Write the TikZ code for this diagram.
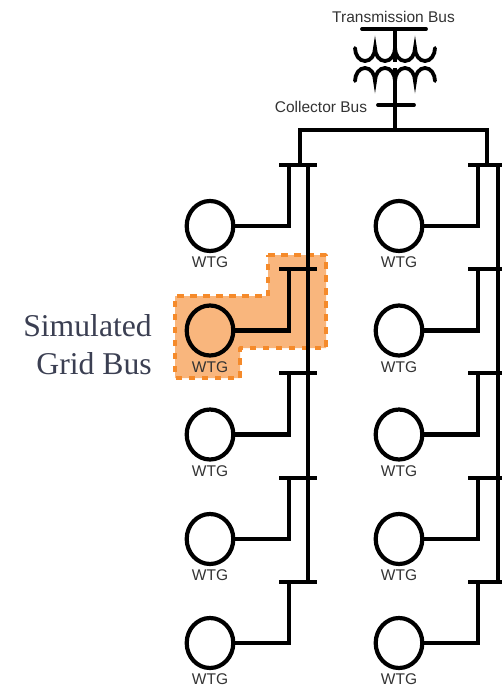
\documentclass[tikz,border=0pt]{standalone}
\usetikzlibrary{shapes.geometric}
\usepackage{fontspec}
\setmainfont{Liberation Serif}
\newfontfamily\lblfont{Liberation Sans}
\definecolor{hlfill}{HTML}{F9B67D}
\definecolor{hldash}{HTML}{F58A2A}
\definecolor{lbl}{HTML}{333333}
\definecolor{simtxt}{HTML}{3B3F52}
\tikzset{
  wire/.style={line width=4.2pt,black},
  thin wire/.style={line width=3.8pt,black},
  wtg/.style={ellipse,draw=black,line width=4.2pt,minimum width=46.6pt,minimum height=50pt,inner sep=0pt,fill=none},
  lab/.style={font=\lblfont\fontsize{15.5}{17}\selectfont,text=lbl,inner sep=0pt},
  simlab/.style={font=\fontsize{31.7}{38}\selectfont,text=simtxt,inner sep=0pt,align=right,anchor=east},
  highlight/.style={fill=hlfill,draw=hldash,line width=3.8pt,dash pattern=on 6.5pt off 6.5pt,line join=round}
}
\begin{document}
\begin{tikzpicture}[x=1pt,y=-1pt]
\useasboundingbox (0,0) rectangle (502,687);
\draw[highlight] (268,255) -- (326,255) -- (326,348) -- (240,348) -- (240,378) -- (175,378) -- (175,296) -- (268,296) -- cycle;
% left and right feeder columns
\foreach \col/\cx/\sx/\bl/\br/\vx in {L/210/289/279/317/308, R/399/478/468/506/498}{
  \coordinate (\col top) at (\vx,165);
  \foreach \i/\by/\cy in {1/165/226, 2/269/330.5, 3/373/434.5, 4/478/539, 5/582/643}{
    \node[wtg] (g\col\i) at (\cx,\cy) {};
    \node[lab,anchor=center] (t\col\i) at (\cx,\cy+36.5) {WTG};
    \coordinate (bl\col\i) at (\bl,\by);
    \coordinate (br\col\i) at (\br,\by);
    \coordinate (s\col\i) at (\sx,\by);
    \draw[thin wire] (bl\col\i) -- (br\col\i);
    \draw[wire,line join=miter] (s\col\i) -- (s\col\i |- g\col\i) -- (g\col\i);
  }
  \coordinate (vb\col) at (\vx,582);
  \draw[wire] (\col top) -- (vb\col);
}
% top structure
\coordinate (tb1) at (362,29); \coordinate (tb2) at (426,29); \coordinate (tbm) at (395,29);
\coordinate (cb1) at (378,105); \coordinate (cb2) at (414,105);
\coordinate (hbm) at (395,130); \coordinate (hbl) at (300,130); \coordinate (hbr) at (487,130);
\coordinate (dl) at (300,165); \coordinate (dr) at (487,165);
\coordinate (coilT) at (395,62); \coordinate (coilB) at (395,68);
\draw[thin wire,line cap=round] (tb1) -- (tb2);
\draw[thin wire,line cap=round] (cb1) -- (cb2);
\draw[wire] (tbm) -- (coilT);
\draw[wire] (coilB) -- (hbm);
\draw[wire,line join=miter] (dl) -- (hbl) -- (hbr) -- (dr);
\draw[thin wire,line cap=round] (355,48) arc[start angle=180,end angle=360,x radius=10,y radius=-13]
  arc[start angle=180,end angle=360,x radius=10,y radius=-13]
  arc[start angle=180,end angle=360,x radius=10,y radius=-13]
  arc[start angle=180,end angle=360,x radius=10,y radius=-13];
\draw[thin wire,line cap=round] (355,81) arc[start angle=180,end angle=0,x radius=10,y radius=-13]
  arc[start angle=180,end angle=0,x radius=10,y radius=-13]
  arc[start angle=180,end angle=0,x radius=10,y radius=-13]
  arc[start angle=180,end angle=0,x radius=10,y radius=-13];
\node[lab] (tbl) at (393.5,17) {Transmission Bus};
\node[lab] (cbl) at (321,106.5) {Collector Bus};
\node[simlab] (sim) at (152,345) {Simulated\\Grid Bus};
\end{tikzpicture}
\end{document}
